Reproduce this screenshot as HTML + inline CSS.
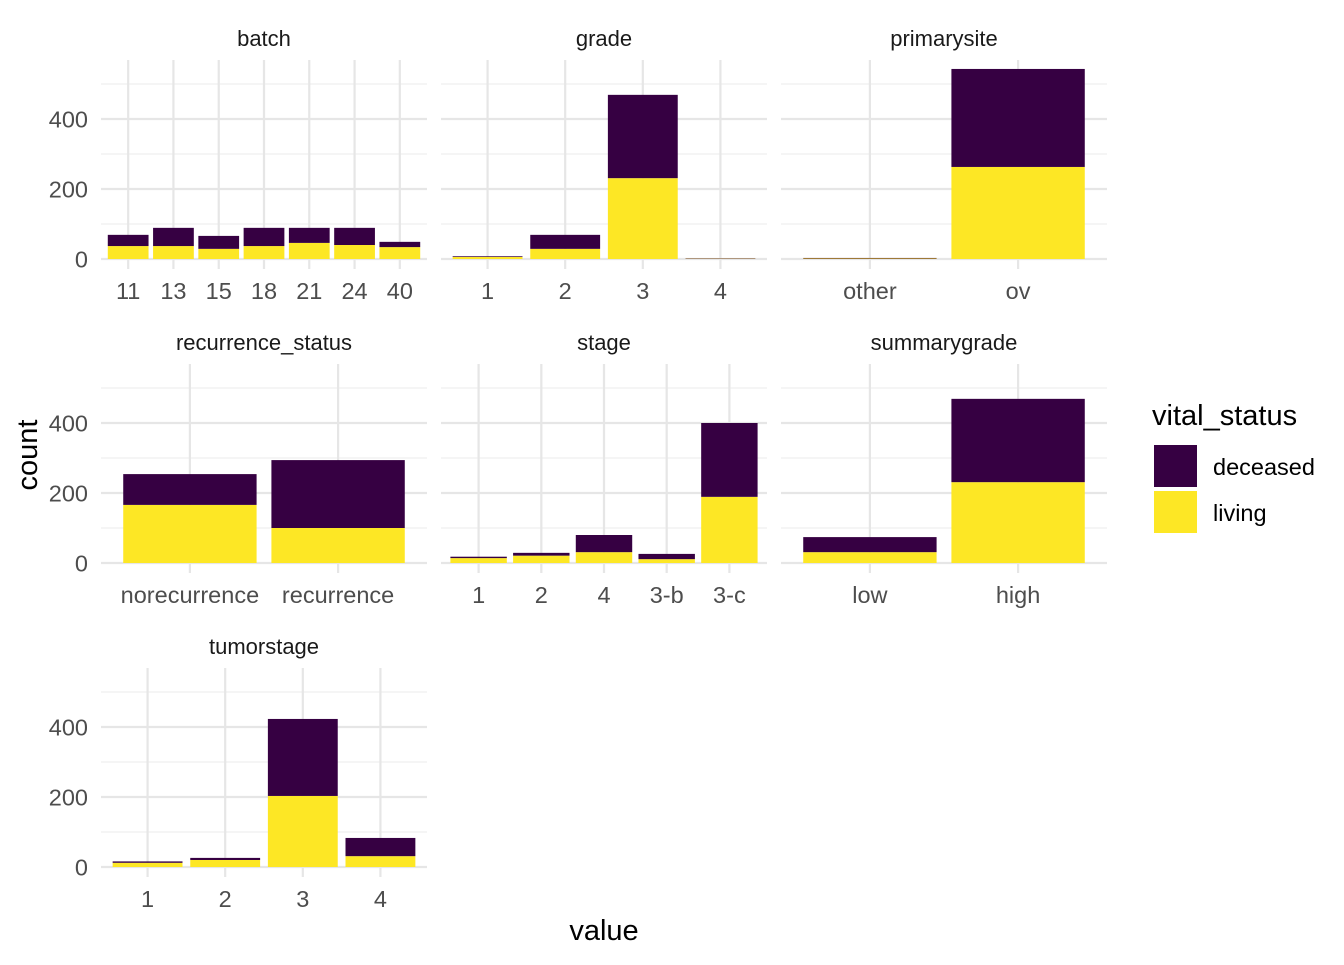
<!DOCTYPE html>
<html><head><meta charset="utf-8"><style>
body{margin:0;background:#fff;}
svg{font-family:"Liberation Sans",Arial,sans-serif;}
</style></head><body>
<svg id="c" width="1344" height="960" xmlns="http://www.w3.org/2000/svg"></svg>
<script>
const panelNames=["batch","grade","primarysite","recurrence_status","stage","summarygrade","tumorstage"];
const categories=[["11","13","15","18","21","24","40"],["1","2","3","4"],["other","ov"],["norecurrence","recurrence"],["1","2","4","3-b","3-c"],["low","high"],["1","2","3","4"]];
const livingValues=[[37,37,29,37,46,40,34],[6,29,231,1],[1.5,263],[166,100],[14,21,31,11,189],[31,231],[12,20,203,31]];
const deceasedValues=[[32,52,37,52,43,49,15],[2,40,238,1],[1.5,280],[88,194],[4,8,49,15,211],[43,238],[4,6,220,52]];
const yTicks=[0,200,400];
const legendLabels=["deceased","living"];
const NS="http://www.w3.org/2000/svg";
const svg=document.getElementById('c');
function mk(t,a,p){const e=document.createElementNS(NS,t);for(const k in a)e.setAttribute(k,a[k]);(p||svg).appendChild(e);return e;}
const colX=[101,441,781],rowZero=[259,563,867],W=326,S=0.35;
function yScale(r,v){return rowZero[r]-v*S;}
panelNames.forEach((name,i)=>{
  const r=Math.floor(i/3),c=i%3,x0=colX[c],cats=categories[i],n=cats.length;
  const step=W/(n-1+1.2);
  const xScale=j=>x0+(0.6+j)*step;
  const g=mk('g',{});
  
  
  const top=rowZero[r]-199,bot=rowZero[r]+10;
  [100,300,500].forEach(v=>{const l=mk('line',{x1:x0,x2:x0+W,y1:yScale(r,v),y2:yScale(r,v),stroke:'#ebebeb','stroke-width':1.1},g);});
  yTicks.forEach(v=>{const l=mk('line',{x1:x0,x2:x0+W,y1:yScale(r,v),y2:yScale(r,v),stroke:'#e6e6e6','stroke-width':2.2},g);});
  cats.forEach((cat,j)=>{const l=mk('line',{x1:xScale(j),x2:xScale(j),y1:top,y2:bot,stroke:'#e6e6e6','stroke-width':2.2},g);});
  cats.forEach((cat,j)=>{
    const bw=step*0.9,bx=xScale(j)-bw/2,lv=livingValues[i][j],dv=deceasedValues[i][j];
    const b1=mk('rect',{x:bx,width:bw,y:yScale(r,lv),height:lv*S,fill:'#fde725'},g);
    
    const b2=mk('rect',{x:bx,width:bw,y:yScale(r,lv+dv),height:dv*S,fill:'#360042'},g);
    
    const t=mk('text',{x:xScale(j),y:rowZero[r]+40,'text-anchor':'middle','font-size':'23.5',fill:'#4d4d4d'},g);
    t.textContent=cat;
  });
  if(c===0){yTicks.forEach(v=>{const t=mk('text',{x:88,y:yScale(r,v)+8.5,'text-anchor':'end','font-size':'23.5',fill:'#4d4d4d'},g);t.textContent=v;});}
  const st=mk('text',{x:x0+W/2,y:rowZero[r]-213,'text-anchor':'middle','font-size':'22',fill:'#1a1a1a'},g);
  st.textContent=name;
});
const xt=mk('text',{x:604,y:940,'text-anchor':'middle','font-size':'29',fill:'#000'});xt.textContent='value';

const yt=mk('text',{x:0,y:0,'text-anchor':'middle','font-size':'29',fill:'#000',transform:'translate(37,455) rotate(-90)'});yt.textContent='count';

const lg=mk('g',{});
const lt=mk('text',{x:1152,y:425,'font-size':'29',fill:'#000'},lg);lt.textContent='vital_status';

['#360042','#fde725'].forEach((col,k)=>{
  const r=mk('rect',{x:1154,y:445+k*46,width:43,height:42,fill:col},lg);
  
  const t=mk('text',{x:1213,y:475+k*46,'font-size':'23.5',fill:'#000'},lg);t.textContent=legendLabels[k];
  
});
</script>
</body></html>
